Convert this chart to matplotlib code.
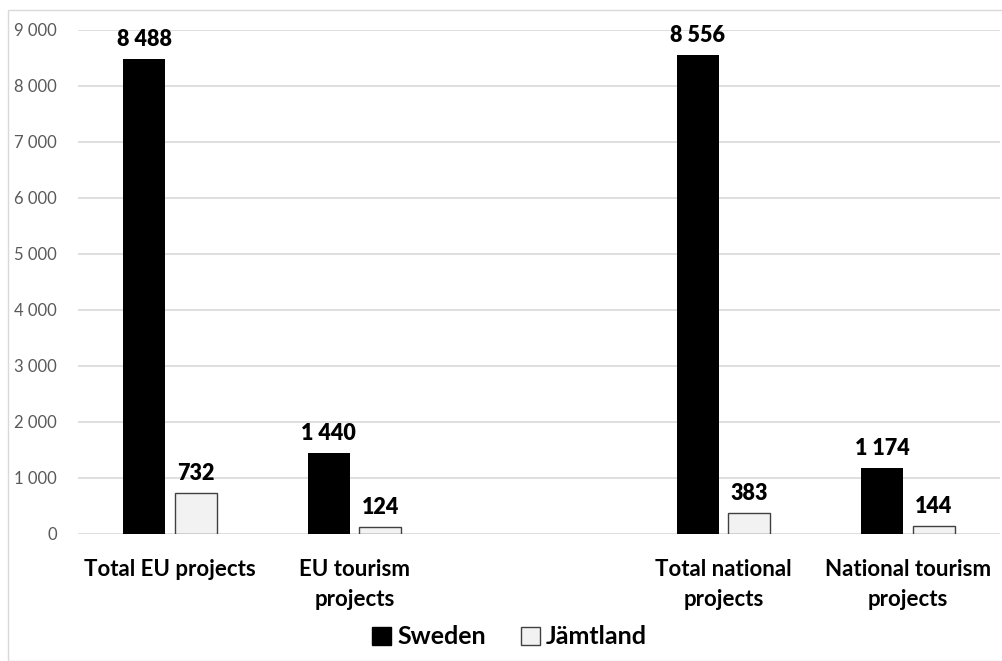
import matplotlib.pyplot as plt
import numpy as np
from matplotlib.patches import Rectangle

categories = ["Total EU projects", "EU tourism\nprojects", "",
              "Total national\nprojects", "National tourism\nprojects"]
sweden = [8488, 1440, None, 8556, 1174]
jamtland = [732, 124, None, 383, 144]
yticks = [0, 1000, 2000, 3000, 4000, 5000, 6000, 7000, 8000, 9000]

plt.rcParams['font.family'] = ['Lato', 'DejaVu Sans']

fig = plt.figure(figsize=(10.03, 6.61), dpi=100)
ax = fig.add_axes([78 / 1003, 1 - 534 / 661, 922 / 1003, 504 / 661])

# outer chart frame
fig.patches.append(Rectangle((8 / 1003, 0.0), 1.0, 1 - 10 / 661, transform=fig.transFigure,
                             fill=False, edgecolor="#d9d9d9", linewidth=1))

x = np.arange(len(categories))
w = 0.227
off = 0.14

def fmt(v):
    return f"{v:,}".replace(",", " ")

for i in range(len(categories)):
    if sweden[i] is None:
        continue
    ax.bar(x[i] - off, sweden[i], w, color="black", zorder=3)
    ax.bar(x[i] + off, jamtland[i], w, color="#f2f2f2", edgecolor="#404040",
           linewidth=1, zorder=3)
    ax.text(x[i] - off, sweden[i] + 160, fmt(sweden[i]), ha="center", va="bottom",
            fontsize=15.5, fontweight="heavy", clip_on=False)
    ax.text(x[i] + off, jamtland[i] + 160, fmt(jamtland[i]), ha="center", va="bottom",
            fontsize=15.5, fontweight="heavy", clip_on=False)

ax.set_xlim(-0.5, len(categories) - 0.5)
ax.set_ylim(0, 9000)
ax.set_yticks(yticks)
ax.set_yticklabels([fmt(v) for v in yticks], color="#595959", fontsize=12)
ax.set_xticks(x)
ax.set_xticklabels(categories, fontsize=16, fontweight="bold", linespacing=1.55)
ax.tick_params(length=0)
ax.tick_params(axis="y", pad=15)
ax.tick_params(axis="x", pad=18)
for s in ax.spines.values():
    s.set_visible(False)
ax.grid(axis="y", color="#d9d9d9", linewidth=1.2, zorder=0)

handles = [Rectangle((0, 0), 1, 1, color="black"),
           Rectangle((0, 0), 1, 1, facecolor="#f2f2f2", edgecolor="#404040")]
fig.legend(handles, ["Sweden", "Jämtland"], loc="center", ncol=2,
           bbox_to_anchor=(0.508, 1 - 637 / 661), frameon=False,
           prop={"size": 18, "weight": "bold"}, handlelength=0.75, handleheight=0.75,
           handletextpad=0.25, columnspacing=1.4)

fig.savefig("out.png", dpi=100)
